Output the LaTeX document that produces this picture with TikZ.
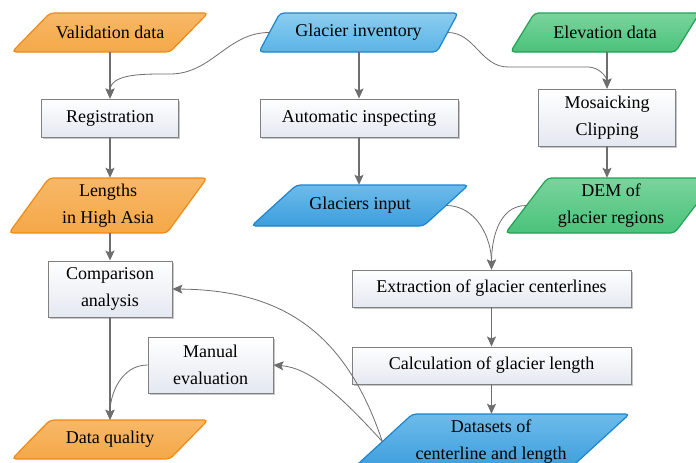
\documentclass[tikz,border=0pt]{standalone}
\usepackage{fontspec}
\setmainfont{Liberation Serif}
\usetikzlibrary{arrows.meta,shadows}
\definecolor{orline}{HTML}{F08A12}
\definecolor{ortop}{HTML}{F7B868}
\definecolor{ormid}{HTML}{F39A2A}
\definecolor{orbot}{HTML}{F5A848}
\definecolor{blline}{HTML}{1A86D0}
\definecolor{bltop}{HTML}{8CCDF0}
\definecolor{blmid}{HTML}{3AA2DE}
\definecolor{blbot}{HTML}{5AB4E6}
\definecolor{bdtop}{HTML}{6DBBEA}
\definecolor{bdmid}{HTML}{2A8ED6}
\definecolor{bdbot}{HTML}{3C9EDD}
\definecolor{grline}{HTML}{1FA353}
\definecolor{grtop}{HTML}{7AD49C}
\definecolor{grmid}{HTML}{2EB764}
\definecolor{grbot}{HTML}{4AC27B}
\definecolor{boxline}{HTML}{808080}
\definecolor{boxbot}{HTML}{E4E8F0}
\definecolor{conn}{HTML}{6E6E6E}
\newcommand\lbl{\fontsize{18}{27}\selectfont}
\tikzset{
  x=1pt, y=-1pt,
  box/.style={draw=boxline, line width=0.9pt, top color=white, bottom color=boxbot,
    drop shadow={shadow xshift=1.6pt, shadow yshift=-1.6pt, fill=black!22, opacity=1},
    align=center, font=\lbl, inner sep=0pt},
  ptext/.style={align=center, font=\lbl, inner sep=0pt},
  orpara/.style={draw=orline, line width=1.2pt, top color=ortop, middle color=ormid, bottom color=orbot},
  blpara/.style={draw=blline, line width=1.2pt, top color=bltop, middle color=blmid, bottom color=blbot},
  bdpara/.style={draw=blline, line width=1.2pt, top color=bdtop, middle color=bdmid, bottom color=bdbot},
  grpara/.style={draw=grline, line width=1.2pt, top color=grtop, middle color=grmid, bottom color=grbot},
  arr/.style={draw=conn, line width=1.3pt, -{Stealth[length=10pt,width=9pt,inset=2pt]}},
  carr/.style={draw=conn, line width=0.8pt, -{Stealth[length=10pt,width=9pt,inset=2pt]}},
}
% #1 name, #2 cx, #3 cy, #4 width, #5 height, #6 slant, #7 style, #8 text
\newcommand\para[8]{%
  \path[#7, rounded corners=4pt] ({#2-#4/2+#6/2},{#3-#5/2}) -- ({#2+#4/2+#6/2},{#3-#5/2})
    -- ({#2+#4/2-#6/2},{#3+#5/2}) -- ({#2-#4/2-#6/2},{#3+#5/2}) -- cycle;
  \node[ptext, minimum width=#4pt, minimum height=#5pt] (#1) at (#2,#3) {#8};}
\begin{document}
\begin{tikzpicture}
\useasboundingbox (0,0) rectangle (696,463);
\clip (0,0) rectangle (696,463);
\fill[white] (0,0) rectangle (696,463);

% input / output shapes
\para{valid}{110}{32.5}{158}{39}{38}{orpara}{Validation data}
\para{inv}{358.5}{32.5}{178}{39}{21}{blpara}{Glacier inventory}
\para{elev}{605}{32.5}{165}{39}{24}{grpara}{Elevation data}
\para{lengths}{108}{205.5}{158}{55}{40}{orpara}{Lengths\\ in High Asia}
\para{ginput}{360}{205.5}{172}{41}{45}{bdpara}{Glaciers input}
\para{dem}{611}{205.5}{169}{55}{42}{grpara}{DEM of\\ glacier regions}
\para{data}{491}{441.5}{217}{55}{60}{bdpara}{Datasets of\\ centerline and length}
\para{quality}{110}{439.5}{158}{39}{38}{orpara}{Data quality}

% process boxes
\node[box, minimum width=137pt, minimum height=38pt] (reg) at (110,118) {Registration};
\node[box, minimum width=198pt, minimum height=38pt] (auto) at (359,118) {Automatic inspecting};
\node[box, minimum width=137pt, minimum height=57pt] (mosaic) at (607,117.5) {Mosaicking\\Clipping};
\node[box, minimum width=124pt, minimum height=56pt] (comp) at (110,289) {Comparison\\analysis};
\node[box, minimum width=279pt, minimum height=37pt] (extr) at (491.5,288.5) {Extraction of glacier centerlines};
\node[box, minimum width=279pt, minimum height=37pt] (calc) at (491.5,365.5) {Calculation of glacier length};
\node[box, minimum width=125pt, minimum height=56pt] (manual) at (210.5,365) {Manual\\evaluation};

% straight connectors
\draw[arr] (reg.north |- valid.south) -- (reg.north);
\draw[arr] (reg.south) -- (reg.south |- lengths.north);
\draw[arr] (comp.north |- lengths.south) -- (comp.north);
\draw[arr] (comp.south) -- (comp.south |- quality.north);
\draw[arr] (auto.north |- inv.south) -- (auto.north);
\draw[arr] (auto.south) -- (auto.south |- ginput.north);
\draw[arr] (mosaic.north |- elev.south) -- (mosaic.north);
\draw[arr] (mosaic.south) -- (mosaic.south |- dem.north);
\draw[arr] (extr.south) -- (calc.north);
\draw[arr] (calc.south) -- (calc.south |- data.north);

% curved connectors
\coordinate (k1) at (170,74);
\coordinate (k2) at (508,67);
\coordinate (k3) at (588,67);
\draw[carr] (inv.west) to[out=180,in=0] (k1) to[out=180,in=90] (reg.north);
\draw[carr] (inv.east) to[out=0,in=180] (k2) -- (k3) to[out=0,in=90] (mosaic.north);
\draw[carr] (ginput.east) to[out=0,in=90] (extr.north);
\draw[carr] (dem.west) to[out=180,in=90] (extr.north);
\draw[carr] (data.west) .. controls (345,330) and (280,290) .. (comp.east);
\draw[carr] (data.west) .. controls (340,395) and (310,368) .. (manual.east);
\draw[carr] (manual.west) to[out=180,in=90] (quality.north);
\end{tikzpicture}
\end{document}
